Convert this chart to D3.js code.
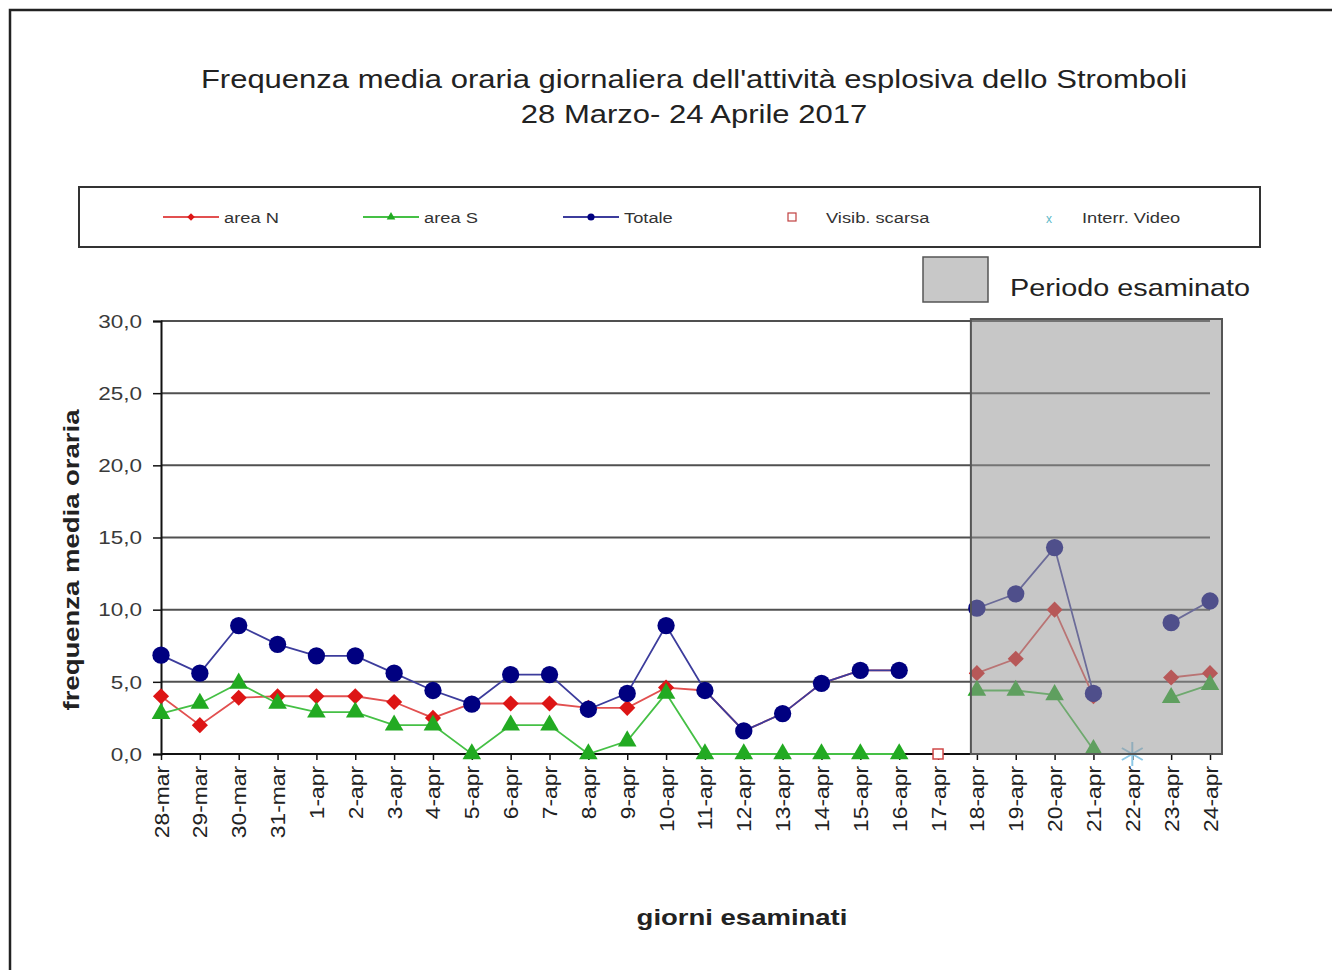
<!DOCTYPE html>
<html>
<head>
<meta charset="utf-8">
<title>Stromboli - frequenza media oraria</title>
<script src="https://d3js.org/d3.v7.min.js" charset="utf-8"></script>
<style>
  html, body { margin: 0; padding: 0; background: #fff; }
  svg text { font-family: "Liberation Sans", Arial, sans-serif; }
</style>
</head>
<body>
<script>
// days on the x axis
var days = ["28-mar", "29-mar", "30-mar", "31-mar",
  "1-apr", "2-apr", "3-apr", "4-apr", "5-apr", "6-apr", "7-apr", "8-apr", "9-apr", "10-apr",
  "11-apr", "12-apr", "13-apr", "14-apr", "15-apr", "16-apr", "17-apr", "18-apr", "19-apr",
  "20-apr", "21-apr", "22-apr", "23-apr", "24-apr"];

// hourly mean frequency (null = no data)
var areaN = [4.0, 2.0, 3.9, 4.0, 4.0, 4.0, 3.6, 2.5, 3.5, 3.5, 3.5, 3.2, 3.2, 4.6,
  4.4, 1.6, 2.8, 4.9, 5.8, 5.8, null, 5.6, 6.6, 10.0, 4.0, null, 5.3, 5.6];
var areaS = [2.8, 3.5, 4.9, 3.5, 2.9, 2.9, 2.0, 2.0, 0, 2.0, 2.0, 0, 0.9, 4.2,
  0, 0, 0, 0, 0, 0, null, 4.4, 4.4, 4.1, 0.3, null, 3.9, 4.8];
var totale = [6.85, 5.6, 8.9, 7.6, 6.8, 6.8, 5.6, 4.4, 3.45, 5.5, 5.5, 3.1, 4.2, 8.9,
  4.4, 1.6, 2.8, 4.9, 5.8, 5.8, null, 10.1, 11.1, 14.3, 4.2, null, 9.1, 10.6];

// special days
var visibScarsa = ["17-apr"];
var interrVideo = ["22-apr"];
var periodo = ["18-apr", "24-apr"];

var yTicks = [0, 5, 10, 15, 20, 25, 30];

var W = 1332, H = 970;
var SX = 1.2; // the original fonts look a bit wider than Arial

var svg = d3.select("body").append("svg")
  .attr("width", W).attr("height", H);

// outer frame (left and top only)
svg.append("path")
  .attr("d", "M10," + H + "V10H" + W)
  .attr("fill", "none").attr("stroke", "#222").attr("stroke-width", 2.5);

function stretchText(g, x, y, txt, size, opts) {
  opts = opts || {};
  var tr = "translate(" + x + "," + y + ")" + (opts.rotate ? " rotate(" + opts.rotate + ")" : "") +
    " scale(" + (opts.sx || SX) + ",1)";
  return g.append("text")
    .attr("transform", tr)
    .attr("text-anchor", opts.anchor || "start")
    .attr("font-size", size)
    .attr("font-weight", opts.weight || "normal")
    .attr("fill", opts.fill || "#222")
    .text(txt);
}

// title
stretchText(svg, 694, 88, "Frequenza media oraria giornaliera dell'attività esplosiva dello Stromboli", 25, {anchor: "middle", sx: 1.24});
stretchText(svg, 694, 123, "28 Marzo- 24 Aprile 2017", 25, {anchor: "middle", sx: 1.24});

// scales
var x = d3.scalePoint().domain(days).range([161, 1210]);
var y = d3.scaleLinear().domain([0, 30]).range([754, 321]);

var colN = "#dd1515", colNline = "#e25050";
var colS = "#22aa22", colSline = "#45c045";
var colT = "#000080", colTline = "#3c3c9c";

// gridlines
svg.append("g").selectAll("line").data(yTicks.filter(function(d) { return d > 0; }))
  .enter().append("line")
  .attr("x1", x.range()[0]).attr("x2", x.range()[1])
  .attr("y1", function(d) { return y(d); }).attr("y2", function(d) { return y(d); })
  .attr("stroke", "#505050").attr("stroke-width", 2);

// axes
var fmt = function(d) { return d3.format(".1f")(d).replace(".", ","); };
var yAxis = svg.append("g")
  .attr("transform", "translate(" + x.range()[0] + ",0)")
  .call(d3.axisLeft(y).tickValues(yTicks).tickSize(8).tickFormat(fmt));
yAxis.select(".domain").attr("stroke", "#111").attr("stroke-width", 2);
yAxis.selectAll(".tick line").attr("stroke", "#111").attr("stroke-width", 1.5);
yAxis.selectAll(".tick text")
  .attr("x", -19 / 1.25).attr("dy", "0.35em")
  .attr("transform", "scale(1.25,1)")
  .attr("font-size", 18).attr("font-family", "Liberation Sans, Arial, sans-serif")
  .attr("fill", "#3a3a3a");

var xAxis = svg.append("g")
  .attr("transform", "translate(0," + y(0) + ")")
  .call(d3.axisBottom(x).tickSize(6).tickSizeOuter(0));
xAxis.select(".domain").attr("stroke", "#111").attr("stroke-width", 2)
  .attr("d", "M" + x.range()[0] + ",0H" + x.range()[1]);
xAxis.selectAll(".tick line").attr("stroke", "#111").attr("stroke-width", 1.5);
xAxis.selectAll(".tick text")
  .attr("transform", "rotate(-90) scale(1.14,1)")
  .attr("x", -12 / 1.14).attr("y", 0).attr("dy", "0.35em")
  .attr("text-anchor", "end")
  .attr("font-size", 20).attr("font-family", "Liberation Sans, Arial, sans-serif")
  .attr("fill", "#222");

// axis titles
stretchText(svg, 79, 560, "frequenza media oraria", 22, {anchor: "middle", rotate: -90, weight: "bold", sx: 1.25});
stretchText(svg, 742, 925, "giorni esaminati", 22, {anchor: "middle", weight: "bold", sx: 1.25});

// series
var series = [
  {name: "area N", values: areaN, color: colN, line: colNline, shape: "diamond"},
  {name: "area S", values: areaS, color: colS, line: colSline, shape: "triangle"},
  {name: "Totale", values: totale, color: colT, line: colTline, shape: "circle"}
];

function markerPath(shape, big) {
  if (shape === "diamond") return d3.symbol().type(d3.symbolSquare).size(big ? 130 : 28)();
  if (shape === "triangle") return d3.symbol().type(d3.symbolTriangle).size(big ? 150 : 32)();
  return d3.symbol().type(d3.symbolCircle).size(big ? 235 : 40)();
}

var line = d3.line()
  .defined(function(d) { return d.v != null; })
  .x(function(d) { return x(d.day); })
  .y(function(d) { return y(d.v); });

series.forEach(function(s) {
  var pts = days.map(function(day, i) { return {day: day, v: s.values[i]}; });
  var g = svg.append("g");
  g.append("path").datum(pts)
    .attr("d", line)
    .attr("fill", "none").attr("stroke", s.line).attr("stroke-width", 1.8);
  g.selectAll("path.mk").data(pts.filter(function(d) { return d.v != null; }))
    .enter().append("path").attr("class", "mk")
    .attr("d", markerPath(s.shape, true))
    .attr("transform", function(d) {
      return "translate(" + x(d.day) + "," + y(d.v) + ")" + (s.shape === "diamond" ? " rotate(45)" : "");
    })
    .attr("fill", s.color);
});

// poor visibility marker
svg.selectAll("rect.vis").data(visibScarsa).enter().append("rect").attr("class", "vis")
  .attr("x", function(d) { return x(d) - 5; }).attr("y", y(0) - 5)
  .attr("width", 10).attr("height", 10)
  .attr("fill", "#fff").attr("stroke", "#d04848").attr("stroke-width", 1.5);

// video interruption marker (asterisk)
function asterisk(g, cx, cy, r, color, w) {
  [90, 30, 150].forEach(function(a) {
    var rad = a * Math.PI / 180;
    g.append("line")
      .attr("x1", cx - r * Math.cos(rad)).attr("y1", cy - r * Math.sin(rad))
      .attr("x2", cx + r * Math.cos(rad)).attr("y2", cy + r * Math.sin(rad))
      .attr("stroke", color).attr("stroke-width", w);
  });
}
interrVideo.forEach(function(d) { asterisk(svg, x(d), y(0), 12, "#8cc8e6", 2); });

// examined period overlay
var px0 = x(periodo[0]) - 6, px1 = x(periodo[1]) + 12;
svg.append("rect")
  .attr("x", px0).attr("y", y(30) - 2)
  .attr("width", px1 - px0).attr("height", y(0) - y(30) + 2)
  .attr("fill", "rgb(150,150,150)").attr("fill-opacity", 0.53)
  .attr("stroke", "#555").attr("stroke-width", 2);

// legend box
var leg = svg.append("g");
leg.append("rect").attr("x", 79).attr("y", 187).attr("width", 1181).attr("height", 60)
  .attr("fill", "#fff").attr("stroke", "#333").attr("stroke-width", 2);
var legX = [163, 363, 563];
series.forEach(function(s, i) {
  var lx = legX[i];
  leg.append("line").attr("x1", lx).attr("x2", lx + 56).attr("y1", 217).attr("y2", 217)
    .attr("stroke", s.line).attr("stroke-width", 1.8);
  leg.append("path").attr("d", markerPath(s.shape, false))
    .attr("transform", "translate(" + (lx + 28) + ",217)" + (s.shape === "diamond" ? " rotate(45)" : ""))
    .attr("fill", s.color);
  stretchText(leg, lx + 61, 223, s.name, 15, {fill: "#333", sx: 1.22});
});
leg.append("rect").attr("x", 788).attr("y", 213).attr("width", 8).attr("height", 8)
  .attr("fill", "#fff").attr("stroke", "#c04040").attr("stroke-width", 1.2);
stretchText(leg, 826, 223, "Visib. scarsa", 15, {fill: "#333", sx: 1.22});
stretchText(leg, 1049, 223, "x", 12, {fill: "#5cb8c8", anchor: "middle", sx: 1});
stretchText(leg, 1082, 223, "Interr. Video", 15, {fill: "#333", sx: 1.22});

// examined period legend
svg.append("rect").attr("x", 923).attr("y", 257).attr("width", 65).attr("height", 45)
  .attr("fill", "#c8c8c8").attr("stroke", "#555").attr("stroke-width", 1.5);
stretchText(svg, 1010, 296, "Periodo esaminato", 24, {fill: "#222", sx: 1.2});
</script>
</body>
</html>
